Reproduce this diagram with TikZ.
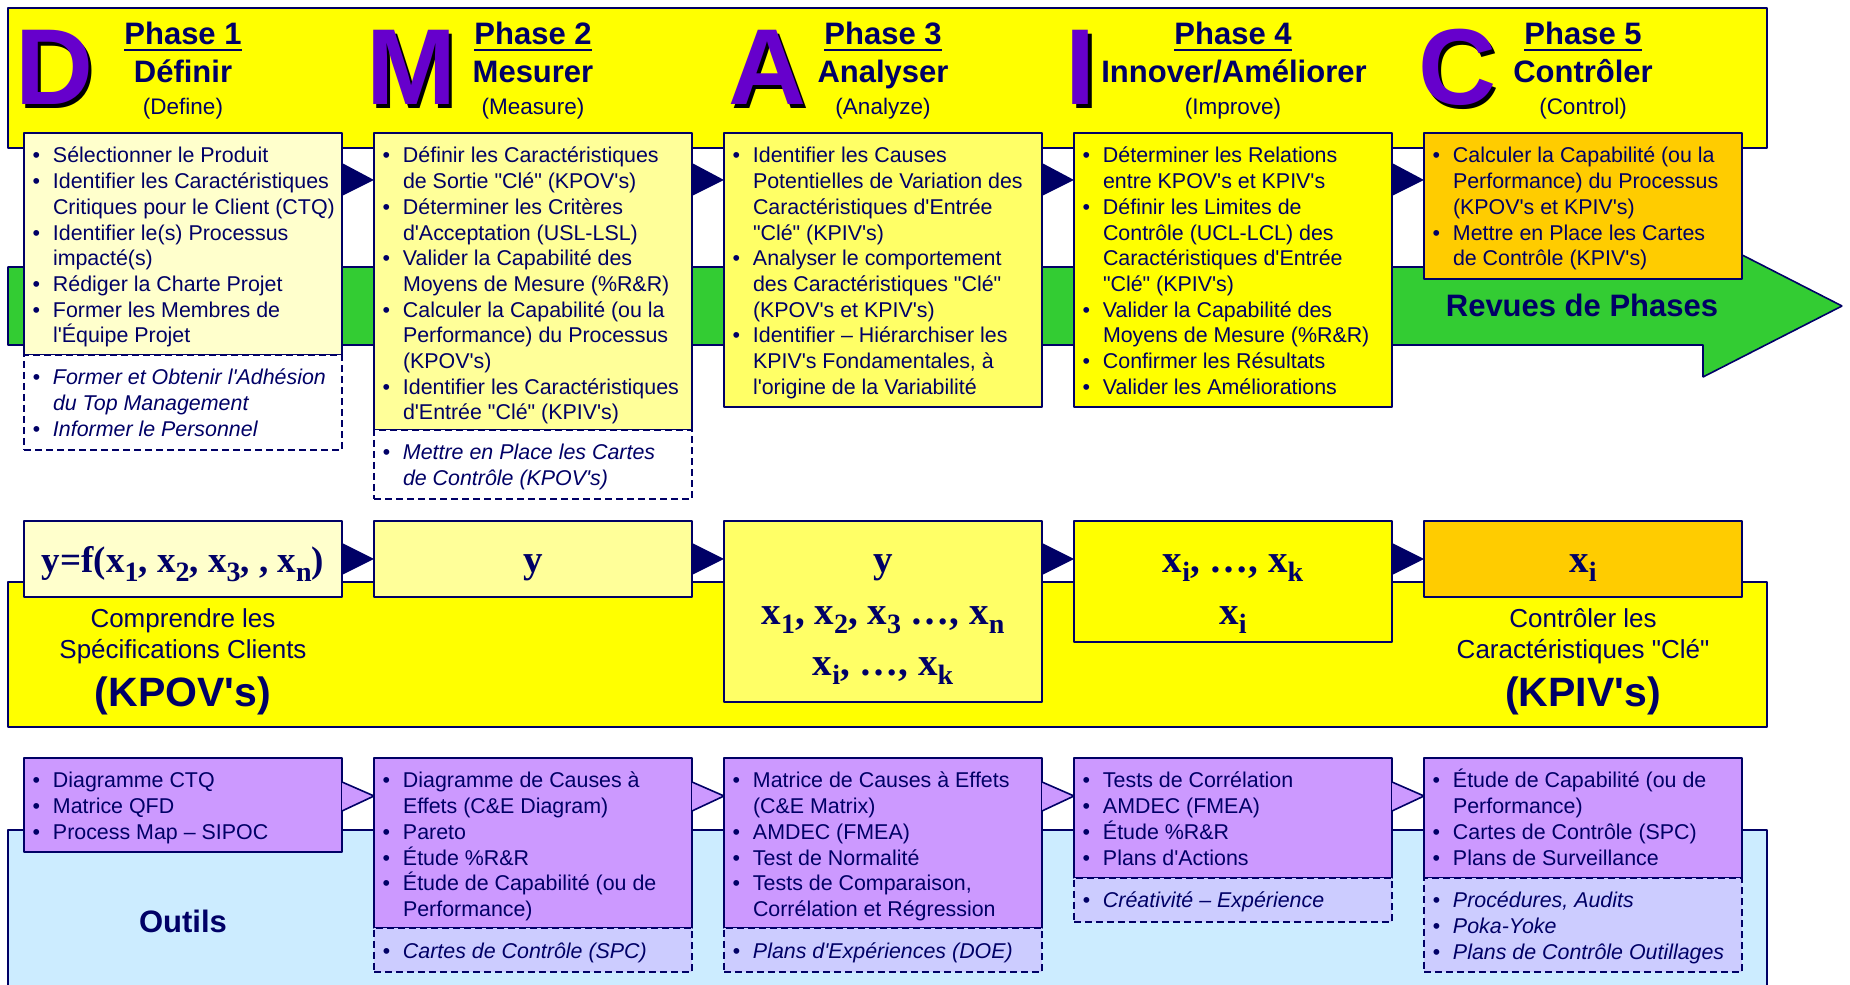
\documentclass[tikz,border=0pt]{standalone}
\usepackage{fontspec}
\newfontfamily\arial{Liberation Sans}
\newfontfamily\tms{Liberation Serif}
\usetikzlibrary{calc}
\definecolor{navy}{HTML}{000066}
\definecolor{purp}{HTML}{6600CC}
\definecolor{ylw}{HTML}{FFFF00}
\definecolor{ylwa}{HTML}{FFFFCC}
\definecolor{ylwb}{HTML}{FFFF99}
\definecolor{ylwc}{HTML}{FFFF66}
\definecolor{orng}{HTML}{FFCC00}
\definecolor{grn}{HTML}{33CC33}
\definecolor{lilac}{HTML}{CC99FF}
\definecolor{lvndr}{HTML}{CCCCFF}
\definecolor{skyb}{HTML}{CCECFF}
% box contents
\newcommand{\boxtxt}[2]{\parbox[t][#1][t]{306bp}{\rightskip=-30bp plus 1fil\parfillskip=0pt plus 1fil\relax #2}}
\newcommand{\eqtxt}[2]{\parbox[t][#1][t]{306bp}{\centering\rule{0pt}{42bp}#2}}
\newcommand{\itm}{\par\noindent\hangindent=23bp\hangafter=1\makebox[23bp][l]{\hspace{2.5bp}\textbullet}\rule{0pt}{20bp}}
\newcommand{\sbs}[1]{\raisebox{-9bp}{\fontsize{28bp}{28bp}\selectfont #1}}
\newcommand{\uln}[1]{\setbox0=\hbox{#1}\rlap{\rule[-6bp]{\wd0}{2.2bp}}\box0}
\begin{document}
\begin{tikzpicture}[>=latex,line join=bevel,
  phbox/.style={draw=navy,line width=1.6bp,inner xsep=6bp,inner ysep=10bp,outer sep=0pt,anchor=north west,text=navy,font=\arial\fontsize{21.4bp}{25.7bp}\selectfont},
  xbox/.style={phbox,dash pattern=on 7bp off 4bp,font=\arial\itshape\fontsize{21.4bp}{25.7bp}\selectfont},
  eqbox/.style={draw=navy,line width=1.6bp,inner xsep=6bp,inner ysep=10bp,outer sep=0pt,anchor=north west,text=navy,font=\tms\bfseries\fontsize{39bp}{51.5bp}\selectfont},
  bigltr/.style={anchor=base west,inner sep=0pt,text=purp,font=\arial\bfseries\fontsize{108bp}{108bp}\selectfont},
  phtitle/.style={anchor=base,inner sep=0pt,text=navy,font=\arial\bfseries\fontsize{31bp}{31bp}\selectfont},
  phsub/.style={anchor=base,inner sep=0pt,text=navy,font=\arial\fontsize{22.5bp}{22.5bp}\selectfont},
  midtxt/.style={anchor=base,inner sep=0pt,text=navy,font=\arial\fontsize{26bp}{26bp}\selectfont},
  midbig/.style={anchor=base,inner sep=0pt,text=navy,font=\arial\bfseries\fontsize{41bp}{41bp}\selectfont},
  band/.style={draw=navy,line width=1.6bp},
]
\useasboundingbox (0bp,0bp) rectangle (1850bp,985bp);
%% bands
\draw [band,fill=ylw] (8bp,837bp) rectangle (1767bp,977bp);
\draw [band,fill=grn] (8bp,718bp) -- (1703bp,718bp) -- (1703bp,750bp) -- (1842bp,679bp) -- (1703bp,608bp) -- (1703bp,640bp) -- (8bp,640bp) -- cycle;
\draw [band,fill=ylw] (8bp,258bp) rectangle (1767bp,403bp);
\fill [skyb] (8bp,0bp) rectangle (1767bp,155bp);
\draw [band] (8bp,0bp) -- (8bp,155bp) -- (1767bp,155bp) -- (1767bp,0bp);
%% phase letters
\node (def_s) at (18.5bp,876.5bp) [bigltr,text=black] {D};
  \node (def_l) at (15bp,880bp) [bigltr] {D};
\node (mes_s) at (369.5bp,876.5bp) [bigltr,text=black] {M};
  \node (mes_l) at (366bp,880bp) [bigltr] {M};
\node (ana_s) at (731.5bp,876.5bp) [bigltr,text=black] {A};
  \node (ana_l) at (728bp,880bp) [bigltr] {A};
\node (inn_s) at (1069bp,876bp) [bigltr,text=black] {\makebox[23bp][l]{I}};
  \node (inn_l) at (1065bp,880bp) [bigltr] {\makebox[23bp][l]{I}};
\node (ctl_s) at (1421.5bp,876.5bp) [bigltr,text=black] {C};
  \node (ctl_l) at (1418bp,880bp) [bigltr] {C};
%% phase titles
\node (def_ph) at (183bp,940bp) [phtitle] {\uln{Phase 1}};
  \node (def_nm) at (183bp,902bp) [phtitle] {Définir};
  \node (def_en) at (183bp,870bp) [phsub] {(Define)};
\node (mes_ph) at (533bp,940bp) [phtitle] {\uln{Phase 2}};
  \node (mes_nm) at (533bp,902bp) [phtitle] {Mesurer};
  \node (mes_en) at (533bp,870bp) [phsub] {(Measure)};
\node (ana_ph) at (883bp,940bp) [phtitle] {\uln{Phase 3}};
  \node (ana_nm) at (883bp,902bp) [phtitle] {Analyser};
  \node (ana_en) at (883bp,870bp) [phsub] {(Analyze)};
\node (inn_ph) at (1233bp,940bp) [phtitle] {\uln{Phase 4}};
  \node (inn_nm) at (1234bp,902bp) [phtitle] {Innover/Améliorer};
  \node (inn_en) at (1233bp,870bp) [phsub] {(Improve)};
\node (ctl_ph) at (1583bp,940bp) [phtitle] {\uln{Phase 5}};
  \node (ctl_nm) at (1583bp,902bp) [phtitle] {Contrôler};
  \node (ctl_en) at (1583bp,870bp) [phsub] {(Control)};
\node (rev) at (1582bp,668bp) [phtitle] {Revues de Phases};
%% phase boxes
\node (def) at (24bp,852bp) [phbox,fill=ylwa] {\boxtxt{202bp}{
  \itm Sélectionner le Produit
  \itm Identifier les Caractéristiques\\Critiques pour le Client (CTQ)
  \itm Identifier le(s) Processus\\impacté(s)
  \itm Rédiger la Charte Projet
  \itm Former les Membres de\\l'Équipe Projet}};
  \node (def_x) at (def.south west) [xbox,fill=white] {\boxtxt{75bp}{
  \itm Former et Obtenir l'Adhésion\\du Top Management
  \itm Informer le Personnel}};
\node (mes) at (374bp,852bp) [phbox,fill=ylwb] {\boxtxt{277bp}{
  \itm Définir les Caractéristiques\\de Sortie "Clé" (KPOV's)
  \itm Déterminer les Critères\\d'Acceptation (USL-LSL)
  \itm Valider la Capabilité des\\Moyens de Mesure (\%R\&R)
  \itm Calculer la Capabilité (ou la\\Performance) du Processus\\(KPOV's)
  \itm Identifier les Caractéristiques\\d'Entrée "Clé" (KPIV's)}};
  \node (mes_x) at (mes.south west) [xbox,fill=white] {\boxtxt{49bp}{
  \itm Mettre en Place les Cartes\\de Contrôle (KPOV's)}};
\node (ana) at (724bp,852bp) [phbox,fill=ylwc] {\boxtxt{254bp}{
  \itm Identifier les Causes\\Potentielles de Variation des\\Caractéristiques d'Entrée\\"Clé" (KPIV's)
  \itm Analyser le comportement\\des Caractéristiques "Clé"\\(KPOV's et KPIV's)
  \itm Identifier – Hiérarchiser les\\KPIV's Fondamentales, à\\l'origine de la Variabilité}};
\node (inn) at (1074bp,852bp) [phbox,fill=ylw] {\boxtxt{254bp}{
  \itm Déterminer les Relations\\entre KPOV's et KPIV's
  \itm Définir les Limites de\\Contrôle (UCL-LCL) des\\Caractéristiques d'Entrée\\"Clé" (KPIV's)
  \itm Valider la Capabilité des\\Moyens de Mesure (\%R\&R)
  \itm Confirmer les Résultats
  \itm Valider les Améliorations}};
\node (ctl) at (1424bp,852bp) [phbox,fill=orng] {\boxtxt{126bp}{
  \itm Calculer la Capabilité (ou la\\Performance) du Processus\\(KPOV's et KPIV's)
  \itm Mettre en Place les Cartes\\de Contrôle (KPIV's)}};
\fill [navy] ($(def.north east)+(0,-30bp)$) -- ($(mes.north west)+(0,-47bp)$) -- ($(def.north east)+(0,-63bp)$) -- cycle;
\fill [navy] ($(mes.north east)+(0,-30bp)$) -- ($(ana.north west)+(0,-47bp)$) -- ($(mes.north east)+(0,-63bp)$) -- cycle;
\fill [navy] ($(ana.north east)+(0,-30bp)$) -- ($(inn.north west)+(0,-47bp)$) -- ($(ana.north east)+(0,-63bp)$) -- cycle;
\fill [navy] ($(inn.north east)+(0,-30bp)$) -- ($(ctl.north west)+(0,-47bp)$) -- ($(inn.north east)+(0,-63bp)$) -- cycle;
%% y = f(x) boxes
\node (def_eq) at (24bp,464bp) [eqbox,fill=ylwa] {\eqtxt{56bp}{\fontsize{37bp}{51.5bp}\selectfont y=f(x\sbs{1}, x\sbs{2}, x\sbs{3}, , x\sbs{n})}};
\node (mes_eq) at (374bp,464bp) [eqbox,fill=ylwb] {\eqtxt{56bp}{y}};
\node (ana_eq) at (724bp,464bp) [eqbox,fill=ylwc] {\eqtxt{161bp}{y\\x\sbs{1}, x\sbs{2}, x\sbs{3} …, x\sbs{n}\\x\sbs{i}, …, x\sbs{k}}};
\node (inn_eq) at (1074bp,464bp) [eqbox,fill=ylw] {\eqtxt{101bp}{x\sbs{i}, …, x\sbs{k}\\x\sbs{i}}};
\node (ctl_eq) at (1424bp,464bp) [eqbox,fill=orng] {\eqtxt{56bp}{x\sbs{i}}};
\fill [navy] ($(def_eq.north east)+(0,-22bp)$) -- ($(mes_eq.north west)+(0,-38bp)$) -- ($(def_eq.north east)+(0,-54bp)$) -- cycle;
\fill [navy] ($(mes_eq.north east)+(0,-22bp)$) -- ($(ana_eq.north west)+(0,-38bp)$) -- ($(mes_eq.north east)+(0,-54bp)$) -- cycle;
\fill [navy] ($(ana_eq.north east)+(0,-22bp)$) -- ($(inn_eq.north west)+(0,-38bp)$) -- ($(ana_eq.north east)+(0,-54bp)$) -- cycle;
\fill [navy] ($(inn_eq.north east)+(0,-22bp)$) -- ($(ctl_eq.north west)+(0,-38bp)$) -- ($(inn_eq.north east)+(0,-54bp)$) -- cycle;
\node (kpov_a) at (183bp,357bp) [midtxt] {Comprendre les};
  \node (kpov_b) at (183bp,326bp) [midtxt] {Spécifications Clients};
  \node (kpov_c) at (183bp,278bp) [midbig] {(KPOV's)};
\node (kpiv_a) at (1583bp,357bp) [midtxt] {Contrôler les};
  \node (kpiv_b) at (1583bp,326bp) [midtxt] {Caractéristiques "Clé"};
  \node (kpiv_c) at (1583bp,278bp) [midbig] {(KPIV's)};
%% tools
\node (tools) at (183bp,52bp) [phtitle] {Outils};
\node (def_tl) at (24bp,227bp) [phbox,fill=lilac] {\boxtxt{74bp}{
  \itm Diagramme CTQ
  \itm Matrice QFD
  \itm Process Map – SIPOC}};
\node (mes_tl) at (374bp,227bp) [phbox,fill=lilac] {\boxtxt{150bp}{
  \itm Diagramme de Causes à\\Effets (C\&E Diagram)
  \itm Pareto
  \itm Étude \%R\&R
  \itm Étude de Capabilité (ou de\\Performance)}};
  \node (mes_tx) at (mes_tl.south west) [xbox,fill=lvndr] {\boxtxt{24bp}{\itm Cartes de Contrôle (SPC)}};
\node (ana_tl) at (724bp,227bp) [phbox,fill=lilac] {\boxtxt{150bp}{
  \itm Matrice de Causes à Effets\\(C\&E Matrix)
  \itm AMDEC (FMEA)
  \itm Test de Normalité
  \itm Tests de Comparaison,\\Corrélation et Régression}};
  \node (ana_tx) at (ana_tl.south west) [xbox,fill=lvndr] {\boxtxt{24bp}{\itm Plans d'Expériences (DOE)}};
\node (inn_tl) at (1074bp,227bp) [phbox,fill=lilac] {\boxtxt{100bp}{
  \itm Tests de Corrélation
  \itm AMDEC (FMEA)
  \itm Étude \%R\&R
  \itm Plans d'Actions}};
  \node (inn_tx) at (inn_tl.south west) [xbox,fill=lvndr] {\boxtxt{24bp}{\itm Créativité – Expérience}};
\node (ctl_tl) at (1424bp,227bp) [phbox,fill=lilac] {\boxtxt{100bp}{
  \itm Étude de Capabilité (ou de\\Performance)
  \itm Cartes de Contrôle (SPC)
  \itm Plans de Surveillance}};
  \node (ctl_tx) at (ctl_tl.south west) [xbox,fill=lvndr] {\boxtxt{74bp}{
  \itm Procédures, Audits
  \itm Poka-Yoke
  \itm Plans de Contrôle Outillages}};
\filldraw [fill=lilac,draw=navy,line width=1.6bp] ($(def_tl.north east)+(0,-24bp)$) -- ($(mes_tl.north west)+(0,-38bp)$) -- ($(def_tl.north east)+(0,-53bp)$);
\filldraw [fill=lilac,draw=navy,line width=1.6bp] ($(mes_tl.north east)+(0,-24bp)$) -- ($(ana_tl.north west)+(0,-38bp)$) -- ($(mes_tl.north east)+(0,-53bp)$);
\filldraw [fill=lilac,draw=navy,line width=1.6bp] ($(ana_tl.north east)+(0,-24bp)$) -- ($(inn_tl.north west)+(0,-38bp)$) -- ($(ana_tl.north east)+(0,-53bp)$);
\filldraw [fill=lilac,draw=navy,line width=1.6bp] ($(inn_tl.north east)+(0,-24bp)$) -- ($(ctl_tl.north west)+(0,-38bp)$) -- ($(inn_tl.north east)+(0,-53bp)$);
%
\end{tikzpicture}
\end{document}
